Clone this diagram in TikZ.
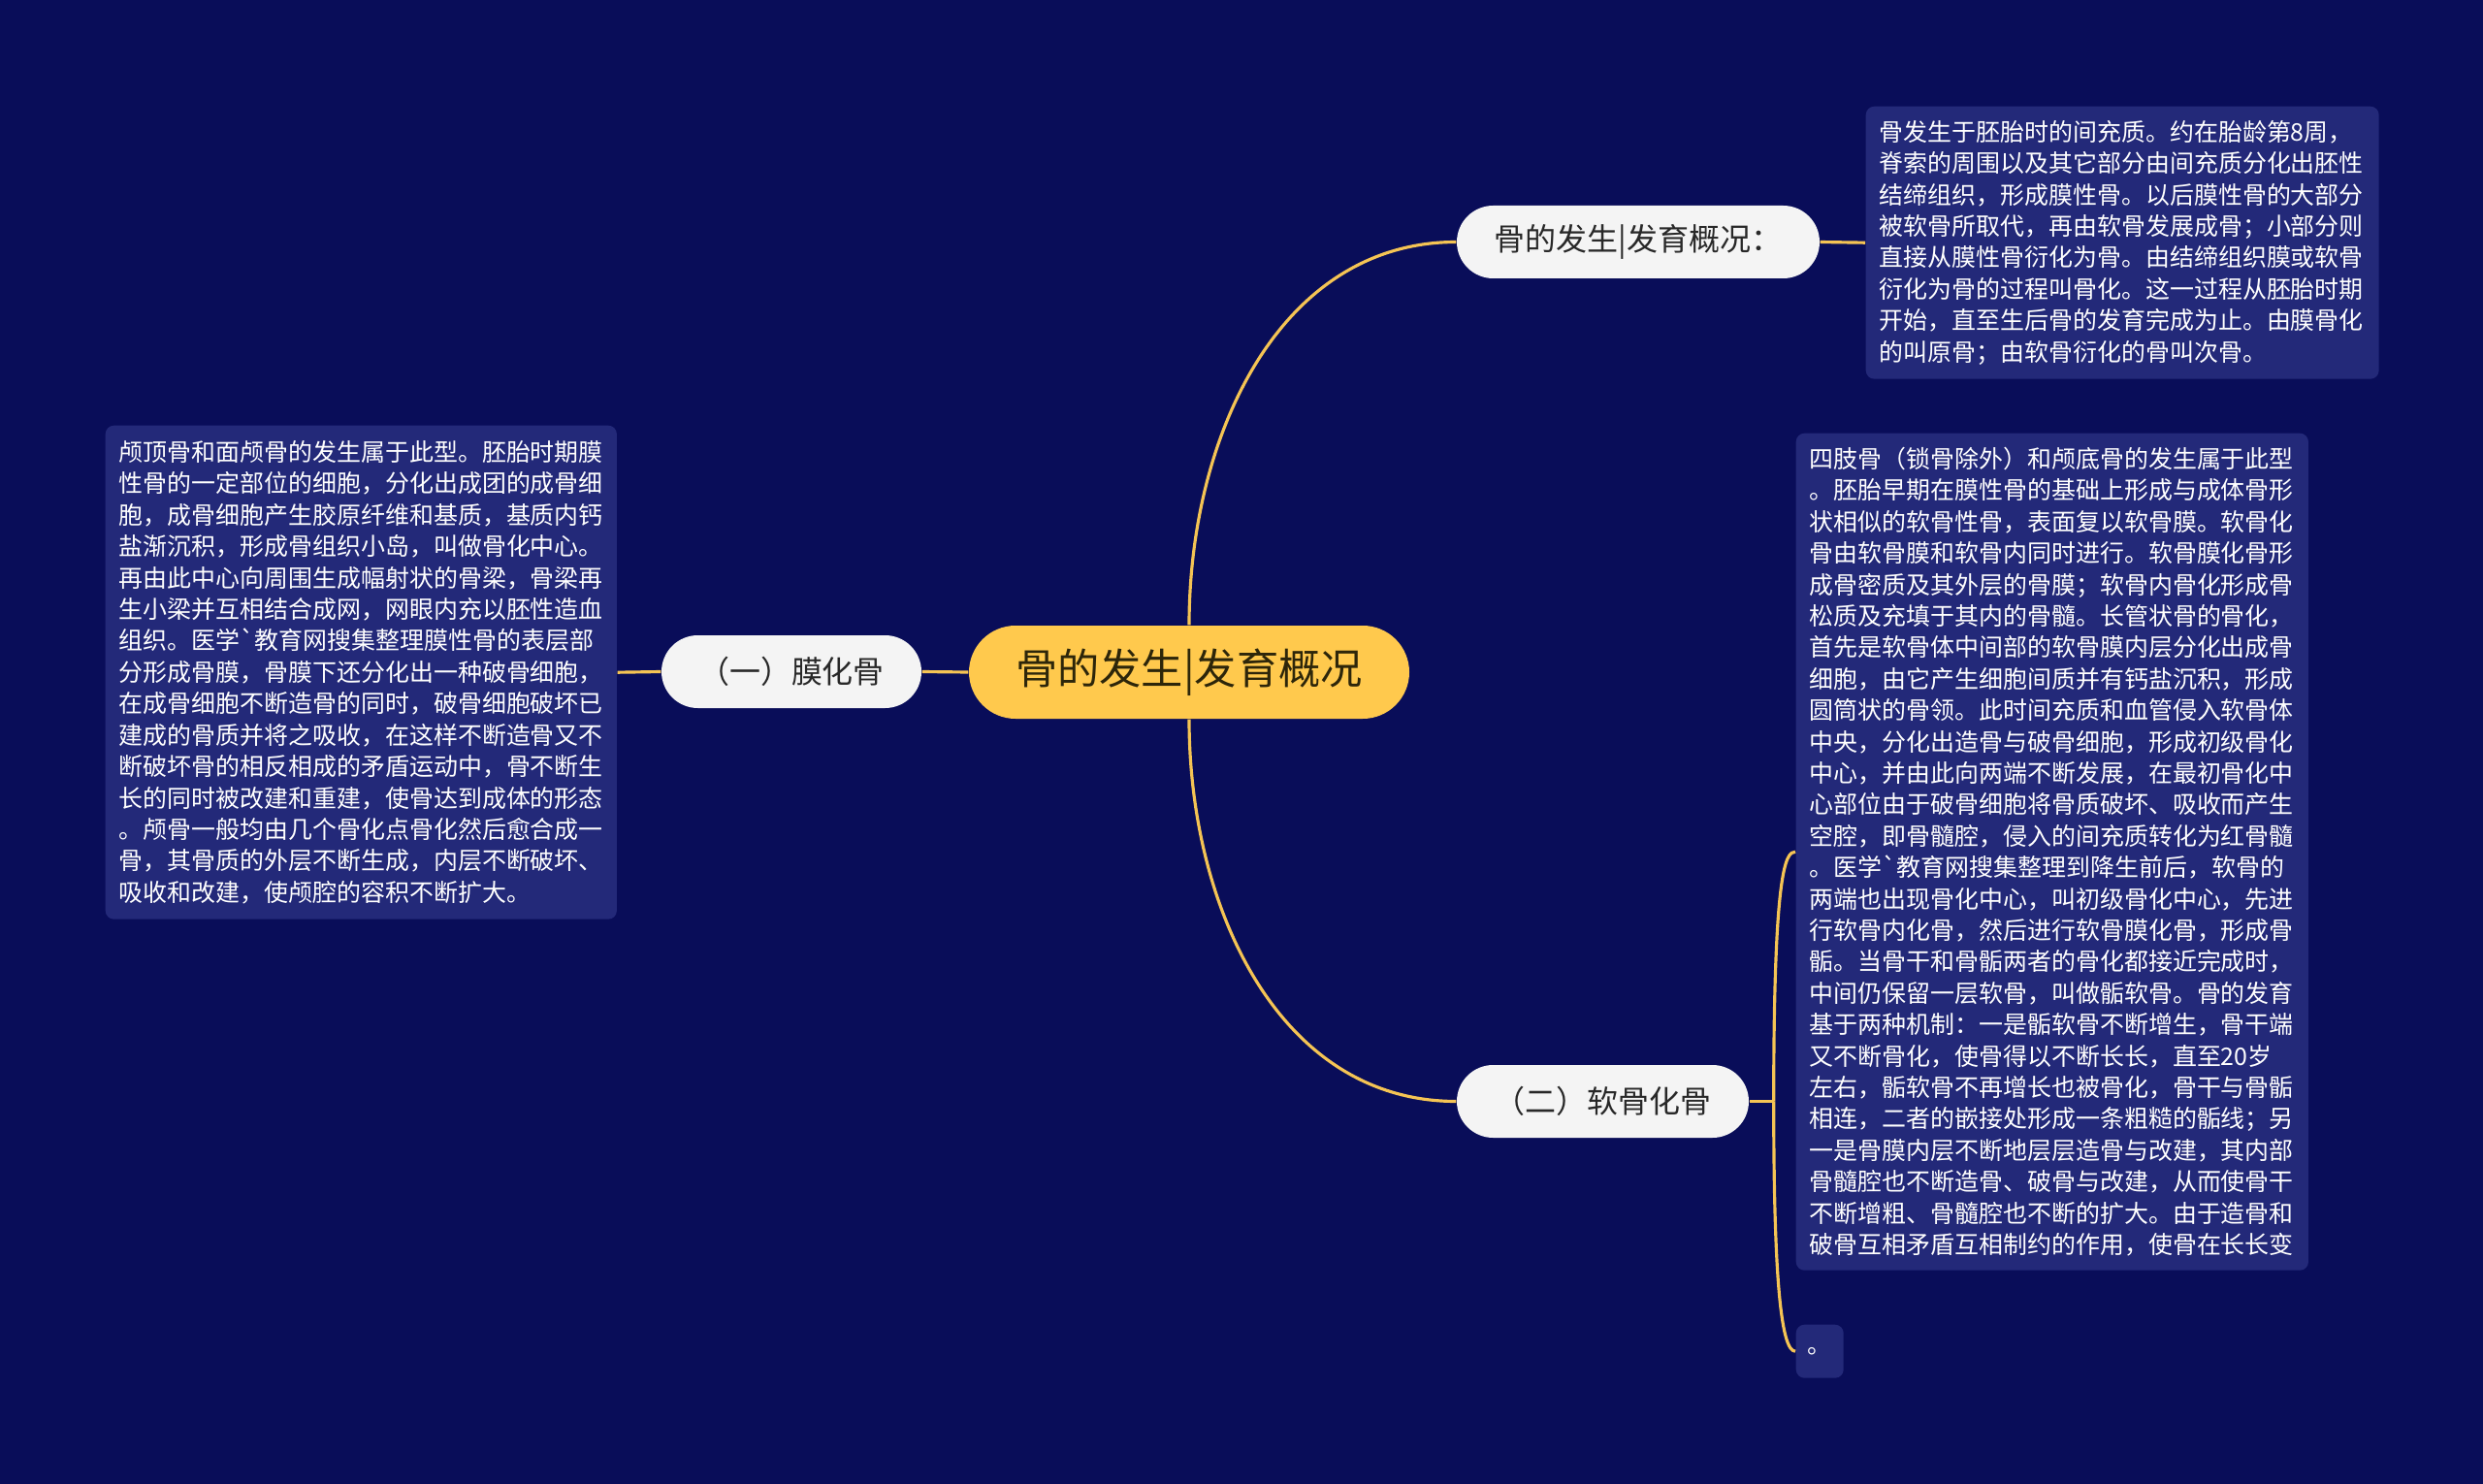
\documentclass[tikz,border=0pt]{standalone}
\usepackage{fontspec}
\usepackage{tikz}
\usetikzlibrary{positioning,calc}
\newfontfamily\cjk{Noto Sans CJK SC}
\definecolor{boneNavy} {RGB}{9,   13,  89}
\definecolor{boneBox}  {RGB}{35,  41, 121}
\definecolor{boneGold} {RGB}{255, 201,  77}
\definecolor{boneLine} {RGB}{245, 196,  84}
\definecolor{bonePill} {RGB}{244, 244, 244}
\definecolor{boneInk}  {RGB}{40,   40,  40}
\definecolor{boneDark} {RGB}{45,   38,  10}

\begin{document}
\begin{tikzpicture}[
    pill/.style={rectangle,fill=bonePill,text=boneInk,rounded corners=0.375cm,
      minimum height=0.75cm,inner sep=0pt,font=\cjk\fontsize{9.1}{11}\selectfont},
    txtbox/.style={rectangle,fill=boneBox,text=white,rounded corners=2.5pt,
      anchor=north west,align=left,inner xsep=4pt,inner ysep=0pt,
      font=\cjk\fontsize{7.1}{9.22}\selectfont},
    branch/.style={boneLine,line width=0.9pt}]
        \useasboundingbox (0,0) rectangle (25.6,-15.3);
        \fill[boneNavy] (0,0) rectangle (25.6,-15.3);

        % 中心主题
        \node[rectangle,fill=boneGold,text=boneDark,rounded corners=0.48cm,
          minimum width=4.54cm,minimum height=0.96cm,inner sep=0pt,
          font=\cjk\fontsize{12.3}{14}\selectfont] (root) at (12.26,-6.93)
          {骨的发生|发育概况};

        % 分支 (名称, x, y, 宽度, 标签)
        \foreach \nm/\x/\y/\w/\lab in {
          mo/8.16/-6.925/2.68/（一）膜化骨,
          fa/16.89/-2.495/3.74/骨的发生|发育概况：,
          ruan/16.525/-11.355/3.01/（二）软骨化骨}{
          \node[pill,minimum width=\w cm] (\nm) at (\x,\y) {\lab};
        }

        % 文本框
        \node[txtbox,text width=142.5pt,minimum height=2.81cm] (topbox) at (19.23,-1.09)
          {骨发生于胚胎时的间充质。约在胎龄第8周，\\
           脊索的周围以及其它部分由间充质分化出胚性\\
           结缔组织，形成膜性骨。以后膜性骨的大部分\\
           被软骨所取代，再由软骨发展成骨；小部分则\\
           直接从膜性骨衍化为骨。由结缔组织膜或软骨\\
           衍化为骨的过程叫骨化。这一过程从胚胎时期\\
           开始，直至生后骨的发育完成为止。由膜骨化\\
           的叫原骨；由软骨衍化的骨叫次骨。};
        \node[txtbox,text width=142pt,minimum height=5.09cm] (leftbox) at (1.08,-4.38)
          {颅顶骨和面颅骨的发生属于此型。胚胎时期膜\\
           性骨的一定部位的细胞，分化出成团的成骨细\\
           胞，成骨细胞产生胶原纤维和基质，基质内钙\\
           盐渐沉积，形成骨组织小岛，叫做骨化中心。\\
           再由此中心向周围生成幅射状的骨梁，骨梁再\\
           生小梁并互相结合成网，网眼内充以胚性造血\\
           组织。医学`教育网搜集整理膜性骨的表层部\\
           分形成骨膜，骨膜下还分化出一种破骨细胞，\\
           在成骨细胞不断造骨的同时，破骨细胞破坏已\\
           建成的骨质并将之吸收，在这样不断造骨又不\\
           断破坏骨的相反相成的矛盾运动中，骨不断生\\
           长的同时被改建和重建，使骨达到成体的形态\\
           。颅骨一般均由几个骨化点骨化然后愈合成一\\
           骨，其骨质的外层不断生成，内层不断破坏、\\
           吸收和改建，使颅腔的容积不断扩大。};
        \node[txtbox,text width=142.3pt,minimum height=8.63cm] (rightbox) at (18.51,-4.46)
          {四肢骨（锁骨除外）和颅底骨的发生属于此型\\
           。胚胎早期在膜性骨的基础上形成与成体骨形\\
           状相似的软骨性骨，表面复以软骨膜。软骨化\\
           骨由软骨膜和软骨内同时进行。软骨膜化骨形\\
           成骨密质及其外层的骨膜；软骨内骨化形成骨\\
           松质及充填于其内的骨髓。长管状骨的骨化，\\
           首先是软骨体中间部的软骨膜内层分化出成骨\\
           细胞，由它产生细胞间质并有钙盐沉积，形成\\
           圆筒状的骨领。此时间充质和血管侵入软骨体\\
           中央，分化出造骨与破骨细胞，形成初级骨化\\
           中心，并由此向两端不断发展，在最初骨化中\\
           心部位由于破骨细胞将骨质破坏、吸收而产生\\
           空腔，即骨髓腔，侵入的间充质转化为红骨髓\\
           。医学`教育网搜集整理到降生前后，软骨的\\
           两端也出现骨化中心，叫初级骨化中心，先进\\
           行软骨内化骨，然后进行软骨膜化骨，形成骨\\
           骺。当骨干和骨骺两者的骨化都接近完成时，\\
           中间仍保留一层软骨，叫做骺软骨。骨的发育\\
           基于两种机制：一是骺软骨不断增生，骨干端\\
           又不断骨化，使骨得以不断长长，直至20岁\\
           左右，骺软骨不再增长也被骨化，骨干与骨骺\\
           相连，二者的嵌接处形成一条粗糙的骺线；另\\
           一是骨膜内层不断地层层造骨与改建，其内部\\
           骨髓腔也不断造骨、破骨与改建，从而使骨干\\
           不断增粗、骨髓腔也不断的扩大。由于造骨和\\
           破骨互相矛盾互相制约的作用，使骨在长长变};
        \node[txtbox,minimum width=0.49cm,minimum height=0.55cm,inner xsep=0pt,
          align=center] (dotbox) at (18.51,-13.65) {。};

        % 连线
        \draw[branch] (root.west) -- (mo.east);
        \draw[branch] (mo.west) -- (leftbox.east);
        \draw[branch] (root.north) .. controls +(0,1.95) and +(-1.82,0) .. (fa.west);
        \draw[branch] (root.south) .. controls +(0,-1.95) and +(-1.82,0) .. (ruan.west);
        \draw[branch] (fa.east) -- (topbox.west);
        \coordinate (jn) at ($(ruan.east)+(0.25,0)$);
        \draw[branch] (ruan.east) -- (jn);
        \draw[branch] (jn) .. controls +(0,2.4) and +(-0.1,0) .. (rightbox.west);
        \draw[branch] (jn) .. controls +(0,-1.8) and +(-0.15,0) .. (dotbox.west);
      \end{tikzpicture}
\end{document}
